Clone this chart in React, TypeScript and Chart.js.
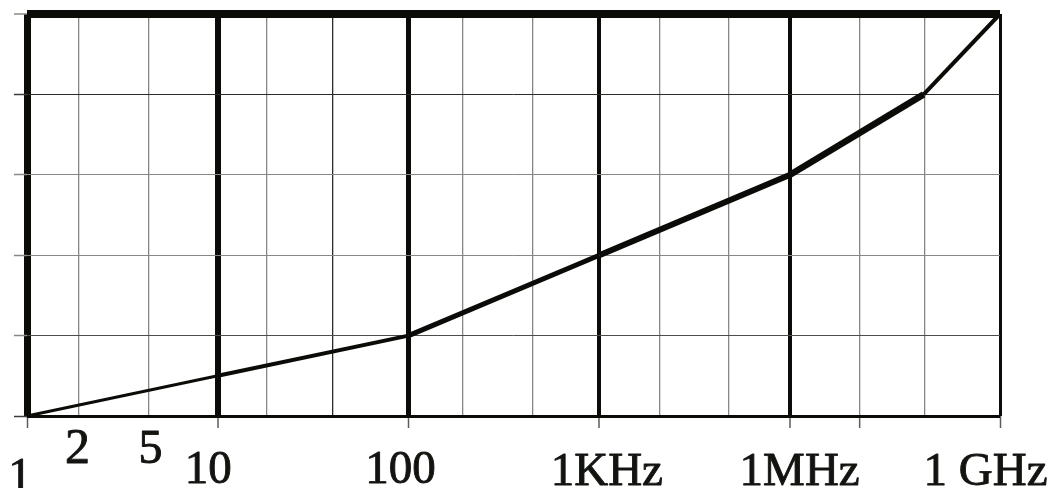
import { useEffect, useRef } from 'react';
import { Chart, registerables } from 'chart.js';

Chart.register(...registerables);

// ---- data ----
// x axis: compressed decade scale (1, 10, 100, 1KHz, 1MHz, 1 GHz)
const decadePositions = [0, 1, 2, 3, 4, 5.1];
const minorPositions = [0.273, 0.639, 1.258, 1.604, 2.285, 2.652, 3.318, 3.679, 4.366, 4.706];
const xTickMarkValues = [0, 1, 2, 3, 4, 4.366, 5.1];
const xTickLabels = ['1', '2', '5', '10', '100', '1KHz', '1MHz', '1 GHz'];
const xTickLabelValues = [0, 0.273, 0.639, 1, 2, 3, 4, 5.1];
// y axis levels
const yLevels = [0, 1, 2, 3, 4, 5];
// the curve
const curveX = [0, 1, 2, 3, 4, 4.7, 5.1];
const curveY = [0, 0.5, 1, 2, 3, 4, 5];

// ---- styles ----
const INK = '#0b0c08';
const GRAY = '#858884';
const MAJOR_WIDTHS = [7, 6, 5, 4, 4, 3];
const SEGMENT_WIDTHS = [3, 4, 5, 6, 6.5, 4];
const Y_STYLE: Record<number, { w: number; c: string }> = {
  0: { w: 3, c: INK },
  1: { w: 1, c: '#4a4d48' },
  2: { w: 1, c: GRAY },
  3: { w: 1, c: GRAY },
  4: { w: 1, c: '#2a2c28' },
  5: { w: 8, c: INK },
};
// label nudges [dx, dy from chart bottom, font size]
const LABEL_NUDGE: [number, number, number][] = [
  [-7, 74, 47],
  [-1.5, 47, 50],
  [1.5, 47, 48],
  [-9.5, 67, 47],
  [-8, 67, 47],
  [7.5, 69, 47],
  [9.5, 69, 47],
  [-14.5, 69, 47],
];

const near = (a: number, b: number) => Math.abs(a - b) < 1e-6;
const xGridValues = [...decadePositions, ...minorPositions].sort((a, b) => a - b);

const labelPlugin = {
  id: 'freqLabels',
  afterDraw(chart: any) {
    const { ctx, chartArea } = chart;
    const x = chart.scales.x;
    ctx.save();
    ctx.fillStyle = '#121410';
    ctx.strokeStyle = '#121410';
    ctx.lineWidth = 0.9;
    ctx.lineJoin = 'round';
    ctx.textAlign = 'center';
    ctx.textBaseline = 'alphabetic';
    xTickLabels.forEach((t, i) => {
      const [dx, dy, size] = LABEL_NUDGE[i];
      ctx.font = `${size}px 'Liberation Serif'`;
      const px = x.getPixelForValue(xTickLabelValues[i]) + dx;
      const py = chartArea.bottom + dy;
      ctx.fillText(t, px, py);
      ctx.strokeText(t, px, py);
    });
    ctx.restore();
  },
};

export default function App() {
  const ref = useRef<HTMLCanvasElement | null>(null);

  useEffect(() => {
    if (!ref.current) return;
    const chart = new Chart(ref.current, {
      type: 'line',
      data: {
        datasets: [
          {
            data: curveX.map((x, i) => ({ x, y: curveY[i] })),
            borderColor: INK,
            borderWidth: 4,
            borderCapStyle: 'butt',
            borderJoinStyle: 'miter',
            pointRadius: 0,
            tension: 0,
            clip: false as any,
            segment: {
              borderWidth: (ctx: any) => SEGMENT_WIDTHS[ctx.p0DataIndex],
            },
          } as any,
        ],
      },
      options: {
        responsive: false,
        animation: false,
        devicePixelRatio: 1,
        events: [],
        layout: {
          autoPadding: false,
          padding: { top: 14, right: 52, bottom: 0, left: 14 },
        },
        plugins: {
          legend: { display: false },
          tooltip: { enabled: false },
        },
        scales: {
          x: {
            type: 'linear',
            min: 0,
            max: 5.1,
            border: { display: false },
            afterBuildTicks: (scale: any) => {
              scale.ticks = xGridValues.map((v) => ({ value: v }));
            },
            afterFit: (scale: any) => {
              scale.height = 72;
            },
            ticks: { display: false },
            grid: {
              drawTicks: true,
              tickLength: 12,
              tickWidth: 1.5,
              lineWidth: (ctx: any) => {
                const v = ctx.tick?.value;
                const mi = decadePositions.findIndex((d) => near(d, v));
                return mi >= 0 ? MAJOR_WIDTHS[mi] : 1.3;
              },
              color: (ctx: any) => {
                const v = ctx.tick?.value;
                if (decadePositions.some((d) => near(d, v))) return INK;
                if (near(v, 1.604)) return '#2a2c28';
                return GRAY;
              },
              tickColor: (ctx: any) => {
                const v = ctx.tick?.value;
                return xTickMarkValues.some((d) => near(d, v)) ? '#5a5c58' : 'rgba(0,0,0,0)';
              },
            },
          },
          y: {
            type: 'linear',
            min: 0,
            max: 5,
            position: 'left',
            border: { display: false },
            afterBuildTicks: (scale: any) => {
              scale.ticks = yLevels.map((v) => ({ value: v }));
            },
            afterFit: (scale: any) => {
              scale.width = 13;
            },
            ticks: { display: false },
            grid: {
              drawTicks: true,
              tickLength: 13,
              tickWidth: 1.5,
              lineWidth: (ctx: any) => Y_STYLE[ctx.tick?.value]?.w ?? 1,
              color: (ctx: any) => Y_STYLE[ctx.tick?.value]?.c ?? GRAY,
              tickColor: (ctx: any) => (ctx.tick?.value === 4 || ctx.tick?.value === 0 ? '#3a3c38' : GRAY),
            },
          },
        },
      } as any,
      plugins: [labelPlugin],
    });
    return () => chart.destroy();
  }, []);

  return (
    <div style={{ position: 'absolute', left: 0, top: 0, width: 1052, height: 488, background: '#fff' }}>
      <canvas ref={ref} width={1052} height={488} style={{ display: 'block' }} />
    </div>
  );
}
